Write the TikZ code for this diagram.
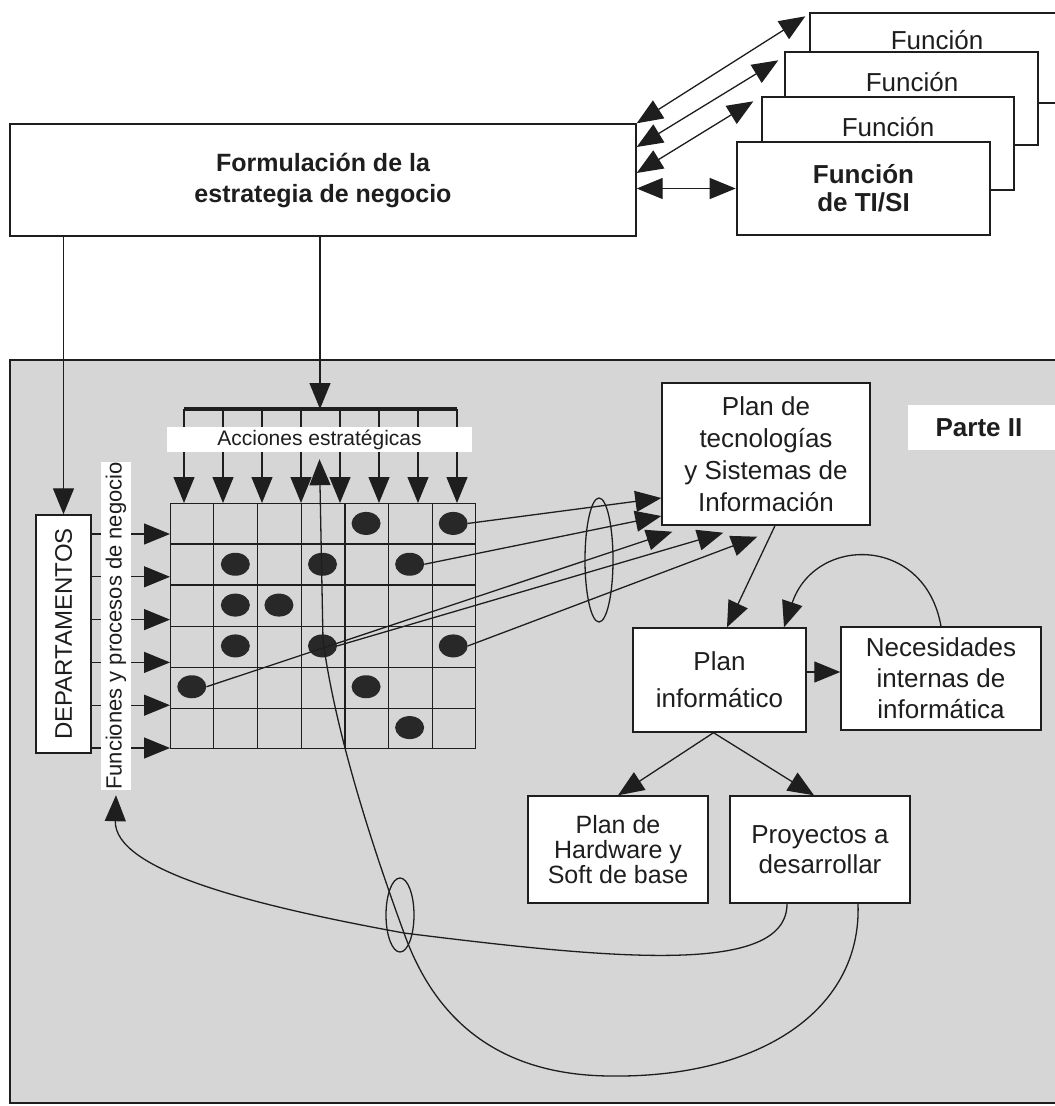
\documentclass[tikz,border=0pt]{standalone}
\usepackage{fontspec}
\setmainfont{Liberation Sans}
\usetikzlibrary{arrows.meta,calc,shapes.geometric}
\definecolor{ink}{RGB}{30,30,30}
\definecolor{panelgray}{RGB}{214,214,214}
\definecolor{dotfill}{RGB}{40,40,40}

\begin{document}
\begin{tikzpicture}[x=1pt,y=-1pt,
  >={Triangle[length=26pt,width=21pt]},
  line/.style={draw=ink,line width=1.3pt},
  box/.style={draw=ink,fill=white,line width=1.4pt,inner sep=0pt,align=center,text=ink},
  lbl/.style={inner sep=0pt,align=center,text=ink},
  dotmark/.style={ellipse,fill=dotfill,minimum width=29pt,minimum height=23pt,inner sep=0pt},
  ring/.style={ellipse,draw=ink,line width=1.3pt,inner sep=0pt},
]
\useasboundingbox (0,0) rectangle (1055,1106);
\clip (0,0) rectangle (1055,1106);
\fill[white] (0,0) rectangle (1055,1106);

% ---------- strategy box and stacked functions ----------
\node[box, minimum width=626pt, minimum height=112pt,
      font=\bfseries\fontsize{25}{31}\selectfont] (strat) at (323,180)
      {Formulación de la\\estrategia de negocio};

\node[box, minimum width=260pt, minimum height=90pt] (fn1) at (940,58) {};
\node[lbl, font=\fontsize{26}{30}\selectfont] (fn1t) at (937,40) {Función};
\node[box, minimum width=253pt, minimum height=93pt] (fn2) at (911.5,98.5) {};
\node[lbl, font=\fontsize{26}{30}\selectfont] (fn2t) at (912,82) {Función};
\node[box, minimum width=252pt, minimum height=93pt] (fn3) at (888,143.5) {};
\node[lbl, font=\fontsize{26}{30}\selectfont] (fn3t) at (888,127) {Función};
\node[box, line width=2.6pt, minimum width=253pt, minimum height=93pt,
      font=\bfseries\fontsize{26}{28}\selectfont] (fn4) at (863.5,188.5)
      {Función\\de TI/SI};

\draw[line,<->] (strat.north east) -- ([shift={(-4pt,-4pt)}]fn1.north west);
\draw[line,<->] ([yshift=33pt]strat.east) -- ([shift={(-6pt,-9pt)}]fn2.north west);
\draw[line,<->] ([yshift=7pt]strat.east) -- ([shift={(-8pt,-5pt)}]fn3.north west);
\draw[line,<->] ([yshift=-8.5pt]strat.east) -- (fn4.west);

% ---------- lower panel ----------
\path[fill=panelgray,draw=ink,line width=1.4pt] (10,360) rectangle (1070,1103);

% departments box (rotated)
\node[box, rotate=90, minimum width=238pt, minimum height=55pt,
      font=\fontsize{24}{28}\selectfont] (dept) at (63.5,634) {DEPARTAMENTOS};
\draw[line,->] (dept.east |- strat.south) -- (dept.east);

% matrix of actions
\node[draw=ink, line width=1.3pt, minimum width=305pt, minimum height=245pt,
      inner sep=0pt, anchor=north west] (mat) at (170,503) {};
\foreach \i in {1,...,6}
  \draw[line] ($(mat.north west)!\i/7!(mat.north east)$) -- ($(mat.south west)!\i/7!(mat.south east)$);
\foreach \j in {1,...,5}
  \draw[line] ($(mat.north west)!\j/6!(mat.south west)$) -- ($(mat.north east)!\j/6!(mat.south east)$);

\foreach \r/\c in {0/4,0/6,1/1,1/3,1/5,2/1,2/2,3/1,3/3,3/6,4/0,4/4,5/5}
  \node[dotmark] (d\r\c) at ({170+43.571*(\c+0.5)},{503+40.833*(\r+0.5)}) {};

% distribution bar over the columns
\coordinate (barL) at (184,409);
\coordinate (barR) at (457,409);
\coordinate (barM) at (320,409);
\draw[draw=ink,line width=3.2pt] (barL) -- (barR);
\draw[line,->] (barM |- strat.south) -- (barM);
\foreach \i in {0,...,7}{
  \path ($(barL)!\i/7!(barR)$) coordinate (tk);
  \draw[line,->] (tk) -- (tk |- mat.north);
}
\node[fill=white, minimum width=305pt, minimum height=25pt, inner sep=0pt,
      font=\fontsize{21}{24}\selectfont, text=ink] (acc) at (319.5,439.5) {Acciones estratégicas};

% row arrows from the departments
\foreach \k in {0,...,5}{
  \pgfmathsetmacro\yy{534+42.8*\k}
  \draw[line,->] (dept.south |- 0,\yy) -- (mat.west |- 0,\yy);
}
\node[fill=white, rotate=90, minimum width=328pt, minimum height=30pt, inner sep=0pt,
      font=\fontsize{22}{26}\selectfont, text=ink] (fstrip) at (116,626)
      {Funciones y procesos de negocio};

% plans
\node[box, minimum width=208pt, minimum height=142pt,
      font=\fontsize{26}{32}\selectfont] (planti) at (766,454)
      {Plan de\\tecnologías\\y Sistemas de\\Información};
\fill[white] (908,405) rectangle (1060,450);
\node[lbl, font=\bfseries\fontsize{26}{30}\selectfont] (parte) at (979,428) {Parte II};

\node[box, minimum width=173pt, minimum height=104pt,
      font=\fontsize{26}{37}\selectfont] (pinfo) at (719.5,680) {Plan\\informático};
\node[box, minimum width=200pt, minimum height=103pt,
      font=\fontsize{26}{31}\selectfont] (nec) at (941,678.5)
      {Necesidades\\internas de\\informática};
\node[box, minimum width=180pt, minimum height=107pt,
      font=\fontsize{25}{25}\selectfont] (hw) at (618,849.5)
      {Plan de\\Hardware y\\Soft de base};
\node[box, minimum width=180pt, minimum height=107pt,
      font=\fontsize{26}{30}\selectfont] (proj) at (820,849.5)
      {Proyectos a\\desarrollar};

\draw[line,->] ([xshift=9pt]planti.south) -- ([xshift=7.5pt]pinfo.north);
\draw[line,->] ([yshift=8pt]pinfo.east) -- ([yshift=6.5pt]nec.west);
\draw[line,->] (nec.north) .. controls (925,535) and (815,535) .. ([xshift=64.5pt]pinfo.north);
\draw[line,->] ([xshift=-6pt]pinfo.south) -- (hw.north);
\draw[line,->] ([xshift=-6pt]pinfo.south) -- ([xshift=-6pt]proj.north);

% actions feeding the IT plan
\draw[line,->] (d06.east) -- ([yshift=-44pt]planti.west);
\draw[line,->] (d15.east) -- ([yshift=-62pt]planti.west);
\draw[line,->] (d40.east) -- ([shift={(11pt,-6pt)}]planti.south west);
\draw[line,->] (d33.east) -- ([shift={(62pt,-7pt)}]planti.south west);
\draw[line,->] (d36.east) -- ([shift={(96pt,-11pt)}]planti.south west);
\node[ring, minimum width=28pt, minimum height=124pt] (ringA) at (599,560) {};

% feedback loops from the projects
\draw[line,->] ([xshift=-33pt]proj.south) .. controls (787,975) and (620,960) .. (404,933)
      .. controls (250,905) and (114,870) .. ([yshift=-5pt]fstrip.west);
\draw[line,->] ([xshift=38pt]proj.south) .. controls (862,1010) and (760,1078) .. (610,1076)
      .. controls (480,1075) and (428,1000) .. (404,933)
      .. controls (370,840) and (335,730) .. (323,640) -- ([yshift=-7pt]acc.south);
\node[ring, minimum width=28pt, minimum height=74pt] (ringB) at (400,915) {};
\end{tikzpicture}
\end{document}
